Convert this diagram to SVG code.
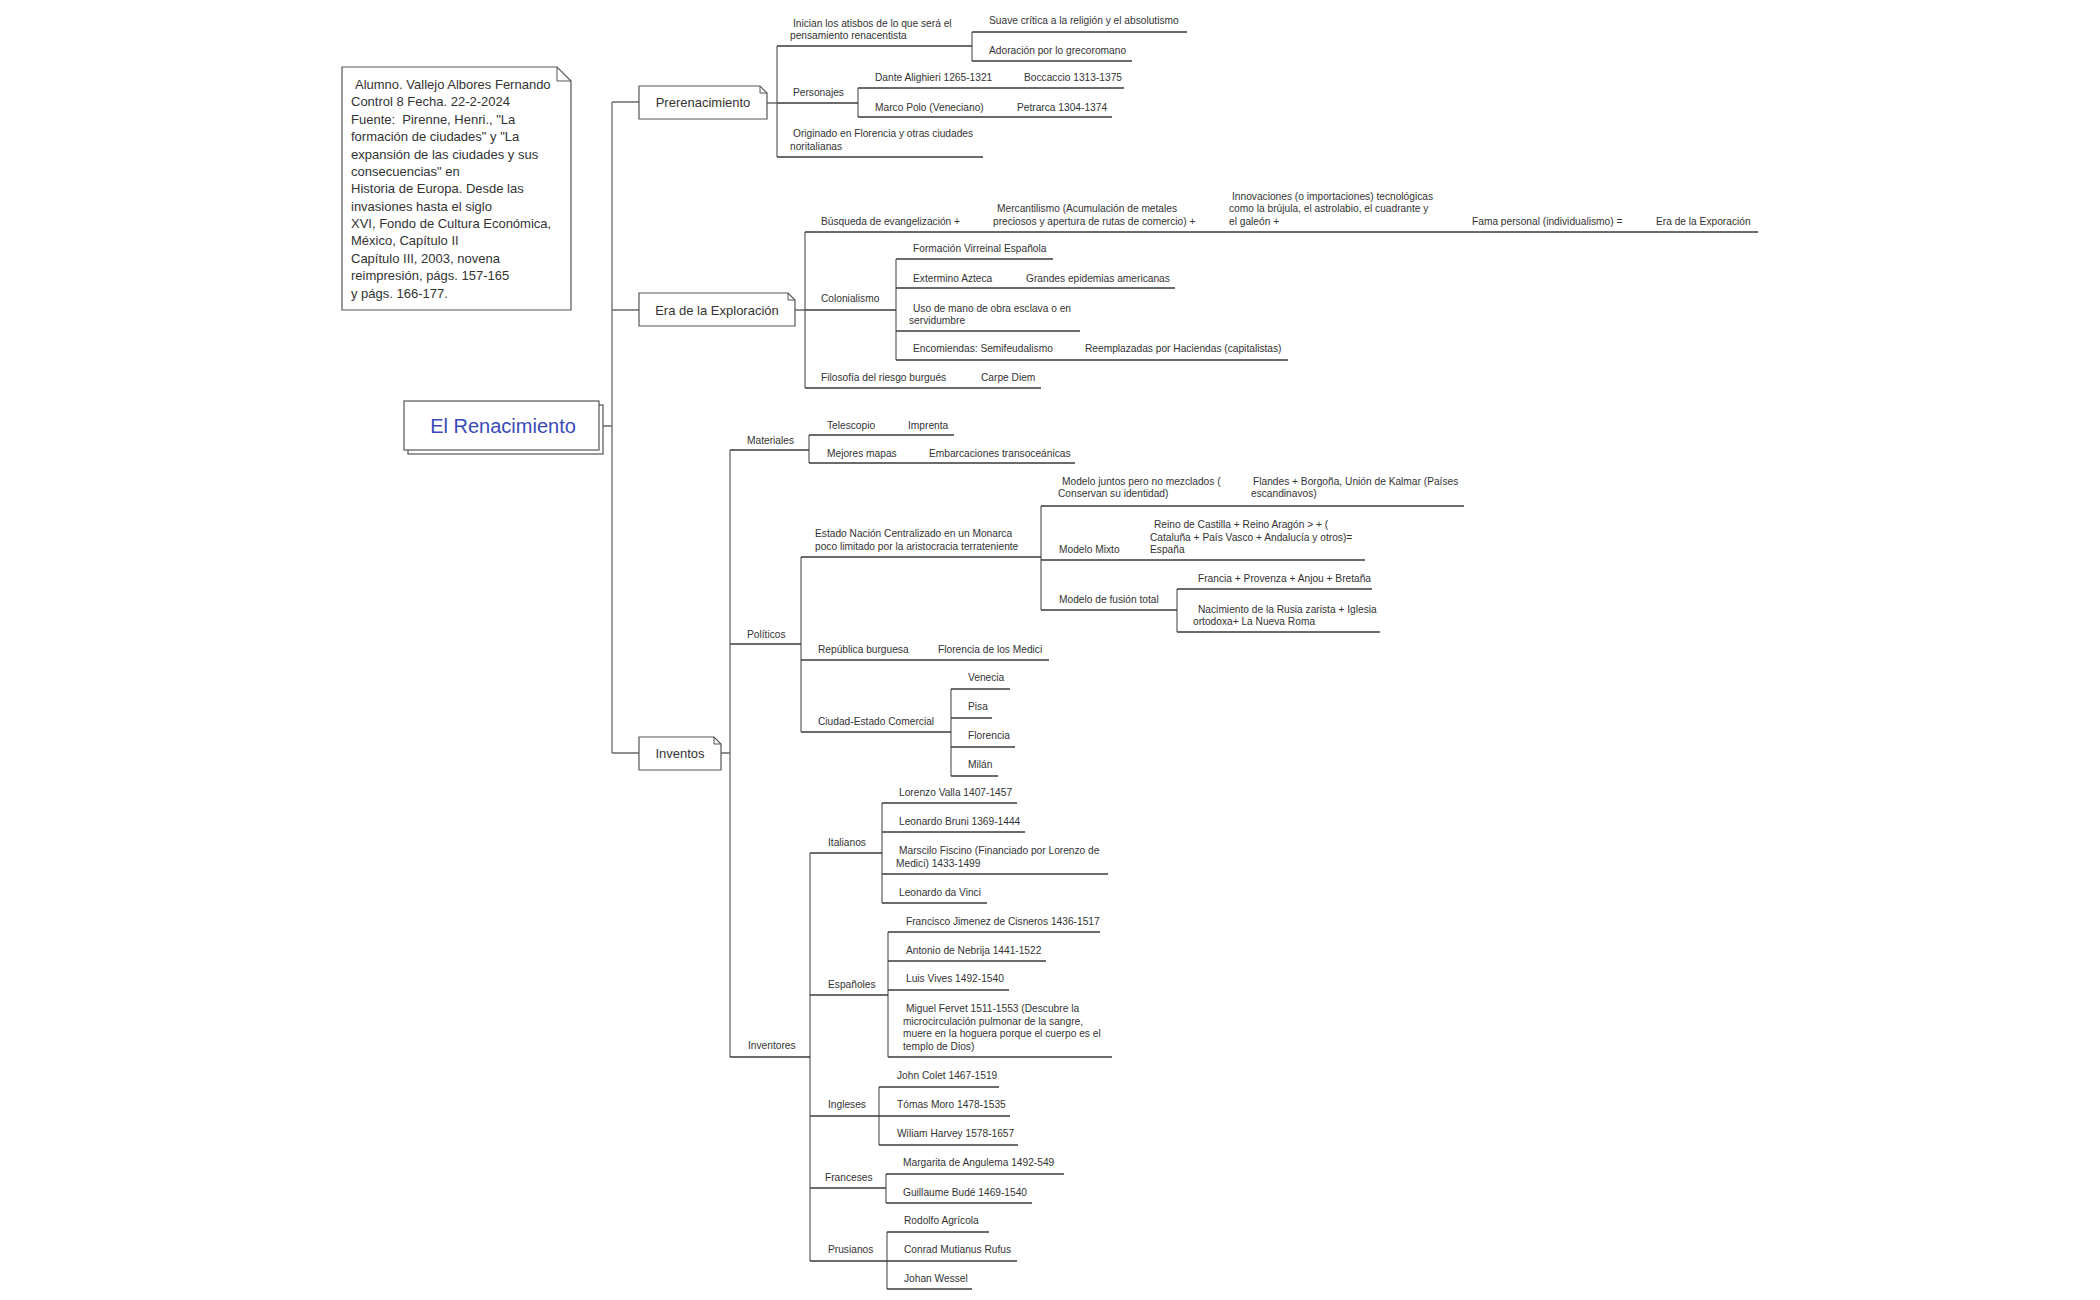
<svg xmlns="http://www.w3.org/2000/svg" width="2100" height="1300" viewBox="0 0 2100 1300">
<style>
text{font-family:"Liberation Sans",Arial,sans-serif;fill:#333}
.t{font-size:10.2px}
.b{font-size:13px}
.n{font-size:13px}
.title{font-size:20px;fill:#3a4ab8}
.u{stroke:#3a3a3a;stroke-width:1.3;fill:none}
.c{stroke:#6a6a6a;stroke-width:1.3;fill:none}
.box{fill:#fff;stroke:#555;stroke-width:1.2}
.fold{fill:none;stroke:#555;stroke-width:1}
</style>
<rect width="2100" height="1300" fill="#fff"/>

<g id="connectors">
<path class="c" d="M612 102V753M612 102H639M612 310H639M612 753H639M603 426H612"/>
<path class="c" d="M766 103H777M777 46V157M972 32V61M858 88V117"/>
<path class="c" d="M795 310H805M805 232V388M896 259V360"/>
<path class="c" d="M721 753H730M730 450V1057M809 435V463M801 557V732M1041 506V610M1177 589V632M951 689V776M810 853V1261M882 803V903M888 932V1057M879 1087V1145M886 1174V1203M887 1232V1289"/>
</g>

<g id="note">
<path class="box" d="M342 67H557L571 81V310H342Z"/>
<path class="fold" d="M557 67V81H571"/>
<text class="n" x="355" y="89">Alumno. Vallejo Albores Fernando</text>
<text class="n" x="351" y="106.4">Control 8 Fecha. 22-2-2024</text>
<text class="n" x="351" y="123.7" style="white-space:pre">Fuente:  Pirenne, Henri., "La</text>
<text class="n" x="351" y="141.1">formación de ciudades" y "La</text>
<text class="n" x="351" y="158.5">expansión de las ciudades y sus</text>
<text class="n" x="351" y="175.9">consecuencias" en</text>
<text class="n" x="351" y="193.2">Historia de Europa. Desde las</text>
<text class="n" x="351" y="210.6">invasiones hasta el siglo</text>
<text class="n" x="351" y="228">XVI, Fondo de Cultura Económica,</text>
<text class="n" x="351" y="245.4">México, Capítulo II</text>
<text class="n" x="351" y="262.7">Capítulo III, 2003, novena</text>
<text class="n" x="351" y="280.1">reimpresión, págs. 157-165</text>
<text class="n" x="351" y="297.5">y págs. 166-177.</text>
</g>

<g id="root">
<rect class="box" x="408" y="405" width="195" height="49"/>
<rect class="box" x="404" y="401" width="195" height="49"/>
<text class="title" x="503" y="433" text-anchor="middle">El Renacimiento</text>
</g>

<g id="prerenacimiento">
<path class="box" d="M639 86H760L767 93V119H639Z"/>
<path class="fold" d="M760 86V93H767"/>
<text class="b" x="703" y="107" text-anchor="middle">Prerenacimiento</text>
</g>
<g id="exploracion">
<path class="box" d="M639 293H788L795 300V326H639Z"/>
<path class="fold" d="M788 293V300H795"/>
<text class="b" x="717" y="314.5" text-anchor="middle">Era de la Exploración</text>
</g>
<g id="inventos">
<path class="box" d="M639 737H714L721 744V770H639Z"/>
<path class="fold" d="M714 737V744H721"/>
<text class="b" x="680" y="757.5" text-anchor="middle">Inventos</text>
</g>

<!-- Prerenacimiento children -->
<g id="inician"><text class="t" x="793" y="27">Inician los atisbos de lo que será el</text><text class="t" x="790" y="39">pensamiento renacentista</text><path class="u" d="M777 46H972"/></g>
<g id="suave"><text class="t" x="989" y="24">Suave crítica a la religión y el absolutismo</text><path class="u" d="M972 32H1187"/></g>
<g id="adoracion"><text class="t" x="989" y="54">Adoración por lo grecoromano</text><path class="u" d="M972 61H1132"/></g>
<g id="personajes"><text class="t" x="793" y="95.5">Personajes</text><path class="u" d="M777 103H858"/></g>
<g id="dante"><text class="t" x="875" y="81">Dante Alighieri 1265-1321</text><path class="u" d="M858 88H1015"/></g>
<g id="boccaccio"><text class="t" x="1024" y="81">Boccaccio 1313-1375</text><path class="u" d="M1015 88H1124"/></g>
<g id="marcopolo"><text class="t" x="875" y="111">Marco Polo (Veneciano)</text><path class="u" d="M858 117H1006"/></g>
<g id="petrarca"><text class="t" x="1017" y="111">Petrarca 1304-1374</text><path class="u" d="M1006 117H1112"/></g>
<g id="originado"><text class="t" x="793" y="137">Originado en Florencia y otras ciudades</text><text class="t" x="790" y="149.5">noritalianas</text><path class="u" d="M777 157H983"/></g>

<!-- Exploracion children -->
<g id="busqueda"><text class="t" x="821" y="225">Búsqueda de evangelización +</text><path class="u" d="M805 232H982"/></g>
<g id="mercantilismo"><text class="t" x="997" y="212">Mercantilismo (Acumulación de metales</text><text class="t" x="993" y="225">preciosos y apertura de rutas de comercio) +</text><path class="u" d="M982 232H1223"/></g>
<g id="innovaciones"><text class="t" x="1232" y="199.5">Innovaciones (o importaciones) tecnológicas</text><text class="t" x="1229" y="212">como la brújula, el astrolabio, el cuadrante y</text><text class="t" x="1229" y="225">el galeón +</text><path class="u" d="M1223 232H1446"/></g>
<g id="fama"><text class="t" x="1472" y="225">Fama personal (individualismo) =</text><path class="u" d="M1446 232H1635"/></g>
<g id="eraexporacion"><text class="t" x="1656" y="225">Era de la Exporación</text><path class="u" d="M1635 232H1758"/></g>
<g id="colonialismo"><text class="t" x="821" y="302">Colonialismo</text><path class="u" d="M805 310H896"/></g>
<g id="formacion"><text class="t" x="913" y="252">Formación Virreinal Española</text><path class="u" d="M896 259H1053"/></g>
<g id="extermino"><text class="t" x="913" y="282">Extermino Azteca</text><path class="u" d="M896 288H1010"/></g>
<g id="epidemias"><text class="t" x="1026" y="282">Grandes epidemias americanas</text><path class="u" d="M1010 288H1175"/></g>
<g id="uso"><text class="t" x="913" y="312">Uso de mano de obra esclava o en</text><text class="t" x="909" y="323.5">servidumbre</text><path class="u" d="M896 331H1080"/></g>
<g id="encomiendas"><text class="t" x="913" y="352">Encomiendas: Semifeudalismo</text><path class="u" d="M896 360H1078"/></g>
<g id="reemplazadas"><text class="t" x="1085" y="352">Reemplazadas por Haciendas (capitalistas)</text><path class="u" d="M1078 360H1288"/></g>
<g id="filosofia"><text class="t" x="821" y="381">Filosofía del riesgo burgués</text><path class="u" d="M805 388H969"/></g>
<g id="carpediem"><text class="t" x="981" y="381">Carpe Diem</text><path class="u" d="M969 388H1041"/></g>

<!-- Inventos children -->
<g id="materiales"><text class="t" x="747" y="444">Materiales</text><path class="u" d="M730 450H809"/></g>
<g id="telescopio"><text class="t" x="827" y="429">Telescopio</text><path class="u" d="M809 435H890"/></g>
<g id="imprenta"><text class="t" x="908" y="429">Imprenta</text><path class="u" d="M890 435H954"/></g>
<g id="mapas"><text class="t" x="827" y="457">Mejores mapas</text><path class="u" d="M809 463H912"/></g>
<g id="embarcaciones"><text class="t" x="929" y="457">Embarcaciones transoceánicas</text><path class="u" d="M912 463H1075"/></g>

<g id="politicos"><text class="t" x="747" y="638">Políticos</text><path class="u" d="M730 644H801"/></g>
<g id="estado"><text class="t" x="815" y="537">Estado Nación Centralizado en un Monarca</text><text class="t" x="815" y="550">poco limitado por la aristocracia terrateniente</text><path class="u" d="M801 557H1041"/></g>
<g id="juntos"><text class="t" x="1062" y="485">Modelo juntos pero no mezclados (</text><text class="t" x="1058" y="497">Conservan su identidad)</text><path class="u" d="M1041 506H1230"/></g>
<g id="flandes"><text class="t" x="1253" y="485">Flandes + Borgoña, Unión de Kalmar (Países</text><text class="t" x="1251" y="497">escandinavos)</text><path class="u" d="M1230 506H1464"/></g>
<g id="mixto"><text class="t" x="1059" y="553">Modelo Mixto</text><path class="u" d="M1041 560H1146"/></g>
<g id="reino"><text class="t" x="1154" y="528">Reino de Castilla + Reino Aragón &gt; + (</text><text class="t" x="1150" y="540.5">Cataluña + País Vasco + Andalucía y otros)=</text><text class="t" x="1150" y="553">España</text><path class="u" d="M1146 560H1365"/></g>
<g id="fusion"><text class="t" x="1059" y="603">Modelo de fusión total</text><path class="u" d="M1041 610H1177"/></g>
<g id="francia"><text class="t" x="1198" y="582">Francia + Provenza + Anjou + Bretaña</text><path class="u" d="M1177 589H1372"/></g>
<g id="rusia"><text class="t" x="1198" y="613">Nacimiento de la Rusia zarista + Iglesia</text><text class="t" x="1193" y="625">ortodoxa+ La Nueva Roma</text><path class="u" d="M1177 632H1380"/></g>
<g id="republica"><text class="t" x="818" y="653">República burguesa</text><path class="u" d="M801 660H915"/></g>
<g id="medici"><text class="t" x="938" y="653">Florencia de los Medici</text><path class="u" d="M915 660H1049"/></g>
<g id="ciudadestado"><text class="t" x="818" y="725">Ciudad-Estado Comercial</text><path class="u" d="M801 732H951"/></g>
<g id="venecia"><text class="t" x="968" y="681">Venecia</text><path class="u" d="M951 689H1010"/></g>
<g id="pisa"><text class="t" x="968" y="710">Pisa</text><path class="u" d="M951 718H992"/></g>
<g id="florencia"><text class="t" x="968" y="739">Florencia</text><path class="u" d="M951 747H1015"/></g>
<g id="milan"><text class="t" x="968" y="768">Milán</text><path class="u" d="M951 776H998"/></g>

<g id="inventores"><text class="t" x="748" y="1049">Inventores</text><path class="u" d="M730 1057H810"/></g>
<g id="italianos"><text class="t" x="828" y="846">Italianos</text><path class="u" d="M810 853H882"/></g>
<g id="valla"><text class="t" x="899" y="796">Lorenzo Valla 1407-1457</text><path class="u" d="M882 803H1017"/></g>
<g id="bruni"><text class="t" x="899" y="825">Leonardo Bruni 1369-1444</text><path class="u" d="M882 832H1025"/></g>
<g id="fiscino"><text class="t" x="899" y="854">Marscilo Fiscino (Financiado por Lorenzo de</text><text class="t" x="896" y="867">Medici) 1433-1499</text><path class="u" d="M882 874H1108"/></g>
<g id="davinci"><text class="t" x="899" y="896">Leonardo da Vinci</text><path class="u" d="M882 903H987"/></g>
<g id="espanoles"><text class="t" x="828" y="988">Españoles</text><path class="u" d="M810 995H888"/></g>
<g id="cisneros"><text class="t" x="906" y="925">Francisco Jimenez de Cisneros 1436-1517</text><path class="u" d="M888 932H1100"/></g>
<g id="nebrija"><text class="t" x="906" y="954">Antonio de Nebrija 1441-1522</text><path class="u" d="M888 961H1046"/></g>
<g id="vives"><text class="t" x="906" y="982">Luis Vives 1492-1540</text><path class="u" d="M888 990H1009"/></g>
<g id="fervet"><text class="t" x="906" y="1012">Miguel Fervet 1511-1553 (Descubre la</text><text class="t" x="903" y="1024.5">microcirculación pulmonar de la sangre,</text><text class="t" x="903" y="1037">muere en la hoguera porque el cuerpo es el</text><text class="t" x="903" y="1049.5">templo de Dios)</text><path class="u" d="M888 1057H1112"/></g>
<g id="ingleses"><text class="t" x="828" y="1108">Ingleses</text><path class="u" d="M810 1116H879"/></g>
<g id="colet"><text class="t" x="897" y="1079">John Colet 1467-1519</text><path class="u" d="M879 1087H999"/></g>
<g id="moro"><text class="t" x="897" y="1108">Tómas Moro 1478-1535</text><path class="u" d="M879 1116H1010"/></g>
<g id="harvey"><text class="t" x="897" y="1137">Wiliam Harvey 1578-1657</text><path class="u" d="M879 1145H1018"/></g>
<g id="franceses"><text class="t" x="825" y="1181">Franceses</text><path class="u" d="M810 1188H886"/></g>
<g id="angulema"><text class="t" x="903" y="1166">Margarita de Angulema 1492-549</text><path class="u" d="M886 1174H1064"/></g>
<g id="bude"><text class="t" x="903" y="1196">Guillaume Budé 1469-1540</text><path class="u" d="M886 1203H1032"/></g>
<g id="prusianos"><text class="t" x="828" y="1253">Prusianos</text><path class="u" d="M810 1261H887"/></g>
<g id="agricola"><text class="t" x="904" y="1224">Rodolfo Agrícola</text><path class="u" d="M887 1232H989"/></g>
<g id="rufus"><text class="t" x="904" y="1253">Conrad Mutianus Rufus</text><path class="u" d="M887 1261H1017"/></g>
<g id="wessel"><text class="t" x="904" y="1282">Johan Wessel</text><path class="u" d="M887 1289H972"/></g>
</svg>
